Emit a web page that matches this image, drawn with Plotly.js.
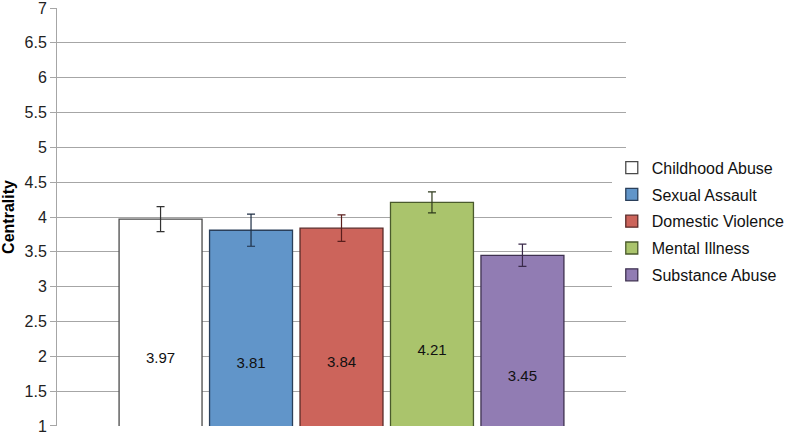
<!DOCTYPE html>
<html>
<head>
<meta charset="utf-8">
<script src="https://cdn.plot.ly/plotly-3.0.1.min.js"></script>
<style>html,body{margin:0;padding:0;background:#fff;}#chart{width:789px;height:437px;}</style>
</head>
<body>
<div id="chart"></div>
<script>
var categories = ["Childhood Abuse", "Sexual Assault", "Domestic Violence", "Mental Illness", "Substance Abuse"];
var values = [3.97, 3.81, 3.84, 4.21, 3.45];
var errors = [0.18, 0.23, 0.19, 0.15, 0.16];
var fillColors = ["#ffffff", "#6195c9", "#cc645b", "#aac46c", "#917cb3"];
var lineColors = ["#4a4a4a", "#2a3f5a", "#5a2a28", "#4a5a2c", "#3e3150"];
var errColors = ["#333333", "#1e2e44", "#5a1e1c", "#2e3a1c", "#3a2a4a"];
var yTicks = [1, 1.5, 2, 2.5, 3, 3.5, 4, 4.5, 5, 5.5, 6, 6.5, 7];
var yTickText = ["1", "1.5", "2", "2.5", "3", "3.5", "4", "4.5", "5", "5.5", "6", "6.5", "7"];

var traces = categories.map(function (c, i) {
  return {
    type: "bar",
    name: c,
    x: [""],
    y: [values[i]],
    base: 0,
    text: [values[i].toFixed(2)],
    textposition: "inside",
    insidetextanchor: "middle",
    textangle: 0,
    textfont: {family: "Liberation Sans, Arial, sans-serif", size: 15, color: "#111111"},
    marker: {color: fillColors[i], line: {color: lineColors[i], width: 1.3}},
    error_y: {type: "data", array: [errors[i]], visible: true, color: errColors[i], thickness: 1.2, width: 4},
    legendgroup: "g" + i,
    hoverinfo: "none"
  };
});

var layout = {
  width: 789, height: 437,
  margin: {l: 57, r: 163, t: 8, b: 11, autoexpand: false},
  paper_bgcolor: "#ffffff", plot_bgcolor: "#ffffff",
  barmode: "group",
  bargap: 0.205,
  bargroupgap: 0.083,
  font: {family: "Liberation Sans, Arial, sans-serif", color: "#000000"},
  xaxis: {
    showticklabels: false, showgrid: false, zeroline: false,
    showline: false, ticks: ""
  },
  yaxis: {
    range: [0.9999, 7.0001], tickvals: yTicks, ticktext: yTickText,
    showgrid: true, gridcolor: "#a6a6a6", gridwidth: 1,
    zeroline: false, showline: true, linecolor: "#a6a6a6", linewidth: 1,
    ticks: "outside", ticklen: 6, tickcolor: "#a6a6a6",
    tickfont: {size: 16, color: "#222222"},
    ticklabeloverflow: "allow",
    title: {text: "<b>Centrality</b>", font: {size: 16, color: "#000000"}, standoff: 5}
  },
  legend: {
    x: 0.975, xanchor: "left", y: 0.49, yanchor: "middle",
    font: {size: 16, color: "#111111"},
    traceorder: "grouped", tracegroupgap: 3,
    itemwidth: 30
  },
  showlegend: true
};

Plotly.newPlot("chart", traces, layout, {displayModeBar: false, staticPlot: true});
</script>
</body>
</html>
